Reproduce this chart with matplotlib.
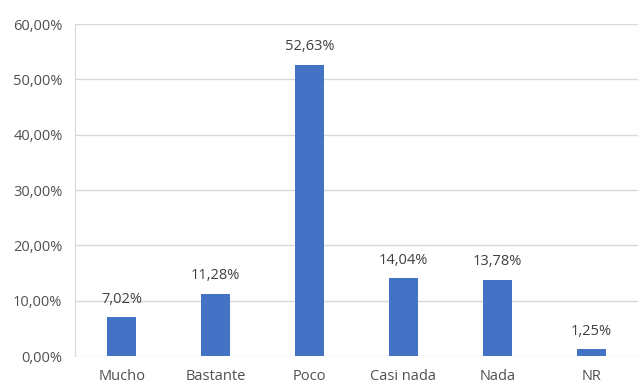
import matplotlib.pyplot as plt
from matplotlib.ticker import FuncFormatter

categories = ["Mucho", "Bastante", "Poco", "Casi nada", "Nada", "NR"]
values = [7.02, 11.28, 52.63, 14.04, 13.78, 1.25]

plt.rcParams['font.family'] = ['Open Sans', 'DejaVu Sans']

fig = plt.figure(figsize=(6.38, 3.83), dpi=100)
ax = fig.add_axes([75/638, 27/383, 1 - 75/638, 332/383])

x = range(len(categories))
bars = ax.bar(x, values, width=0.31, color="#4472C4", zorder=3)

for xi, v in zip(x, values):
    ax.text(xi, v + 1.9, ("%.2f%%" % v).replace(".", ","), ha="center", va="bottom",
            fontsize=10.5, color="#404040")

ax.set_xlim(-0.5, len(categories) - 0.5)
ax.set_ylim(0, 60)
ax.set_yticks(range(0, 61, 10))
ax.yaxis.set_major_formatter(FuncFormatter(lambda v, p: ("%.2f%%" % v).replace(".", ",")))
ax.set_xticks(list(x))
ax.set_xticklabels(categories)

ax.grid(axis="y", color="#D9D9D9", linewidth=1, zorder=0)
for s in ["top", "right", "bottom"]:
    ax.spines[s].set_visible(False)
ax.spines["left"].set_color("#D9D9D9")
ax.tick_params(axis="both", length=0, labelsize=10.5, colors="#505050")
ax.tick_params(axis="x", pad=9.5)
ax.tick_params(axis="y", pad=9)

fig.savefig("out.png", dpi=100)
